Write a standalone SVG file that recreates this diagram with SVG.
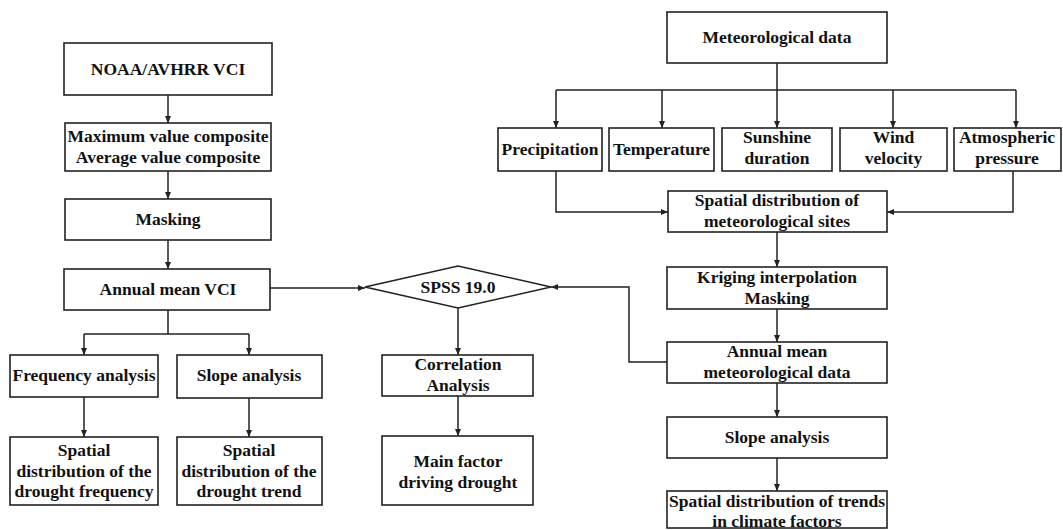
<svg xmlns="http://www.w3.org/2000/svg" width="1063" height="530" viewBox="0 0 1063 530">
<style>
.box{fill:#fff;stroke:#222;stroke-width:1.6}
.t{font-family:"Liberation Serif","Times New Roman",serif;font-weight:bold;font-size:17.5px;fill:#111;text-anchor:middle}
.c{fill:none;stroke:#222;stroke-width:1.5}
</style>
<defs>
<marker id="ah" markerWidth="8" markerHeight="8" refX="7" refY="4" orient="auto" markerUnits="userSpaceOnUse">
<path d="M0,1 L7,4 L0,7 Z" fill="#222"/>
</marker>
</defs>
<rect width="1063" height="530" fill="#fff"/>
<g id="connectors">
<path class="c" d="M168,95 V123" marker-end="url(#ah)"/>
<path class="c" d="M168,171 V199" marker-end="url(#ah)"/>
<path class="c" d="M168,240 V269" marker-end="url(#ah)"/>
<path class="c" d="M168,310 V334 M84,334 H249"/>
<path class="c" d="M84,334 V355" marker-end="url(#ah)"/>
<path class="c" d="M249,334 V355" marker-end="url(#ah)"/>
<path class="c" d="M84,397 V437" marker-end="url(#ah)"/>
<path class="c" d="M249,398 V437" marker-end="url(#ah)"/>
<path class="c" d="M270,288 H365" marker-end="url(#ah)"/>
<path class="c" d="M458,308 V355" marker-end="url(#ah)"/>
<path class="c" d="M458,396 V436" marker-end="url(#ah)"/>
<path class="c" d="M667,362 H629 V287 H551" marker-end="url(#ah)"/>
<path class="c" d="M777,63 V90 M556,90 H1016"/>
<path class="c" d="M556,90 V128" marker-end="url(#ah)"/>
<path class="c" d="M662,90 V128" marker-end="url(#ah)"/>
<path class="c" d="M777,90 V128" marker-end="url(#ah)"/>
<path class="c" d="M893,90 V128" marker-end="url(#ah)"/>
<path class="c" d="M1016,90 V128" marker-end="url(#ah)"/>
<path class="c" d="M556,171 V212 H668" marker-end="url(#ah)"/>
<path class="c" d="M1013,171 V212 H887" marker-end="url(#ah)"/>
<path class="c" d="M777,232 V267" marker-end="url(#ah)"/>
<path class="c" d="M777,309 V342" marker-end="url(#ah)"/>
<path class="c" d="M777,383 V417" marker-end="url(#ah)"/>
<path class="c" d="M777,458 V491" marker-end="url(#ah)"/>
</g>
<g id="noaa"><rect class="box" x="64" y="43" width="208" height="52"/><text class="t" x="168" y="75">NOAA/AVHRR VCI</text></g>
<g id="composite"><rect class="box" x="65" y="123" width="206" height="48"/><text class="t" x="168" y="142">Maximum value composite</text><text class="t" x="168" y="163">Average value composite</text></g>
<g id="masking"><rect class="box" x="65" y="199" width="206" height="41"/><text class="t" x="168" y="225">Masking</text></g>
<g id="annualvci"><rect class="box" x="64" y="269" width="206" height="41"/><text class="t" x="168" y="295">Annual mean VCI</text></g>
<g id="freq"><rect class="box" x="10" y="355" width="148" height="42"/><text class="t" x="84" y="381">Frequency analysis</text></g>
<g id="slope1"><rect class="box" x="177" y="355" width="145" height="43"/><text class="t" x="249" y="381">Slope analysis</text></g>
<g id="freqres"><rect class="box" x="10" y="437" width="148" height="68"/><text class="t" x="84" y="456">Spatial</text><text class="t" x="84" y="477">distribution of the</text><text class="t" x="84" y="497">drought frequency</text></g>
<g id="trendres"><rect class="box" x="177" y="437" width="145" height="68"/><text class="t" x="249" y="456">Spatial</text><text class="t" x="249" y="477">distribution of the</text><text class="t" x="249" y="497">drought trend</text></g>
<g id="spss"><polygon class="box" points="365,287 458,266 551,287 458,308"/><text class="t" x="458" y="293">SPSS 19.0</text></g>
<g id="corr"><rect class="box" x="382" y="355" width="151" height="41"/><text class="t" x="458" y="370">Correlation</text><text class="t" x="458" y="391">Analysis</text></g>
<g id="mainfactor"><rect class="box" x="382" y="436" width="151" height="69"/><text class="t" x="458" y="467">Main factor</text><text class="t" x="458" y="488">driving drought</text></g>
<g id="metdata"><rect class="box" x="667" y="12" width="220" height="51"/><text class="t" x="777" y="43">Meteorological data</text></g>
<g id="precip"><rect class="box" x="498" y="128" width="104" height="43"/><text class="t" x="550" y="155">Precipitation</text></g>
<g id="temp"><rect class="box" x="609" y="128" width="105" height="43"/><text class="t" x="661.5" y="155">Temperature</text></g>
<g id="sunshine"><rect class="box" x="722" y="128" width="110" height="43"/><text class="t" x="777" y="143">Sunshine</text><text class="t" x="777" y="164">duration</text></g>
<g id="wind"><rect class="box" x="840" y="128" width="107" height="43"/><text class="t" x="893.5" y="143">Wind</text><text class="t" x="893.5" y="164">velocity</text></g>
<g id="atmos"><rect class="box" x="954" y="128" width="107" height="43"/><text class="t" x="1007" y="143">Atmospheric</text><text class="t" x="1007" y="164">pressure</text></g>
<g id="sites"><rect class="box" x="668" y="191" width="219" height="41"/><text class="t" x="777" y="206">Spatial distribution of</text><text class="t" x="777" y="227">meteorological sites</text></g>
<g id="kriging"><rect class="box" x="667" y="267" width="220" height="42"/><text class="t" x="777" y="283">Kriging interpolation</text><text class="t" x="777" y="304">Masking</text></g>
<g id="annualmet"><rect class="box" x="667" y="342" width="220" height="41"/><text class="t" x="777" y="357">Annual mean</text><text class="t" x="777" y="378">meteorological data</text></g>
<g id="slope2"><rect class="box" x="667" y="417" width="220" height="41"/><text class="t" x="777" y="443">Slope analysis</text></g>
<g id="trends"><rect class="box" x="667" y="491" width="220" height="37"/><text class="t" x="777" y="507">Spatial distribution of trends</text><text class="t" x="777" y="527">in climate factors</text></g>
</svg>
